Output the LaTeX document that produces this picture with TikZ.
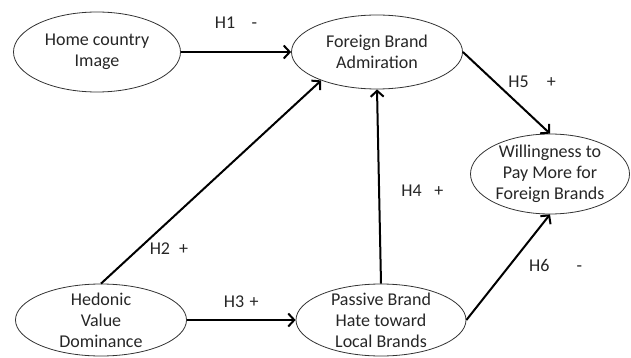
\documentclass[tikz,border=0pt]{standalone}
\usepackage{fontspec}
\setmainfont{Carlito}
\usetikzlibrary{shapes.geometric, arrows.meta}

\begin{document}
\begin{tikzpicture}[x=1pt, y=-1pt, node distance=280pt, font=\fontsize{18}{21}\selectfont]
% Define styles
\tikzstyle{construct} = [ellipse, draw=black!80, line width=0.8pt, minimum width=171pt, minimum height=74pt, inner xsep=0pt, inner ysep=-6pt, align=center, text=black!85]
\tikzstyle{arrow} = [line width=2pt, -{Straight Barb[length=6pt, width=13pt, line width=2pt]}]
\tikzstyle{hyp} = [text=black!85]
\useasboundingbox (0,0) rectangle (631,358);
% Place nodes
\node (home) [construct, minimum width=167pt, minimum height=80pt] at (97,52) {Home country\\Image};
\node (foreign) [construct, right of=home] {Foreign Brand\\Admiration};
\node (hedonic) [construct, minimum height=72pt] at (101,320) {Hedonic\\Value\\Dominance};
\node (passive) [construct, right of=hedonic, minimum width=170pt, minimum height=72pt] {Passive Brand\\Hate toward\\Local Brands};
\node (will) [construct, minimum width=159pt, minimum height=80pt] at (550,174) {Willingness to\\Pay More for\\Foreign Brands};
% Draw arrows
\draw [arrow] (home) -- node[hyp, above=19pt] (h1) {H1\hspace{0.9em}-} (foreign);
\draw [arrow] (hedonic.north) -- node[hyp, pos=0.17, right=7pt] (h2) {H2\hspace{0.5em}+} (foreign.207);
\draw [arrow] (hedonic) -- node[hyp, above=8pt] (h3) {H3\hspace{0.3em}+} (passive);
\draw [arrow] (passive.north) -- node[hyp, pos=0.48, right=18pt] (h4) {H4\hspace{0.7em}+} (foreign.south);
\draw [arrow] (foreign.east) -- node[hyp, pos=0.37, right=9pt] (h5) {H5\hspace{1em}+} (will.north);
\draw [arrow] (passive.east) -- node[hyp, pos=0.52, right=15pt] (h6) {H6\hspace{1.5em}-} (will.south);
\end{tikzpicture}
\end{document}
